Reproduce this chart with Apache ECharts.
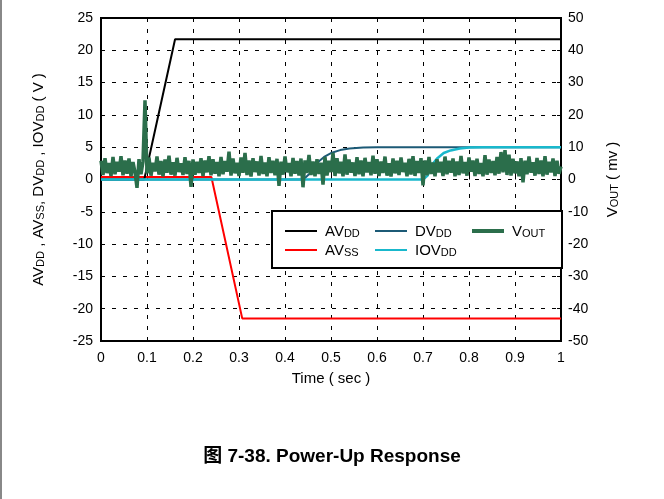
<!DOCTYPE html>
<html>
<head>
<meta charset="utf-8">
<script src="https://cdn.jsdelivr.net/npm/echarts@6/dist/echarts.min.js"></script>
<style>html,body{margin:0;padding:0;background:#fff;}#c{width:664px;height:499px;}</style>
</head>
<body>
<div id="c"></div>
<script>
// ---- data ----
var xTicks = [0, 0.1, 0.2, 0.3, 0.4, 0.5, 0.6, 0.7, 0.8, 0.9, 1];
var avdd = [[0, 0], [0.094, 0], [0.161, 21.7], [1, 21.7]];
var avss = [[0, 0.4], [0.24, 0.4], [0.307, -21.5], [1, -21.5]];
var dvdd = [[0, 0], [0.44, 0], [0.455, 1.0], [0.47, 2.6], [0.485, 3.5], [0.5, 4.1], [0.52, 4.55], [0.54, 4.8], [0.57, 4.95], [0.6, 5.0], [1, 5.0]];
var iovdd = [[0, 0], [0.70, 0], [0.71, 0.6], [0.72, 2.3], [0.73, 3.2], [0.745, 4.1], [0.76, 4.5], [0.78, 4.8], [0.8, 4.95], [0.83, 5.0], [1, 5.0]];
// VOUT in mV, evenly spaced over 0..1 s
var vout = [
 5.8, 1.4, 6.6, 2.0, 5.1, 1.1, 7.0, 1.6, 5.5, 2.4,
 7.2, 1.3, 5.9, 1.8, 6.5, 1.0, 5.4, 2.2, -2.6, 6.3,
 1.6, 5.6, 24.5, 1.9, 6.8, 1.2, 5.2, 2.5, 7.1, 1.5,
 5.7, 1.0, 6.2, 2.1, 7.4, 1.5, 5.3, 1.2, 6.7, 2.3,
 5.0, 1.4, 6.9, 1.7, 5.8, -2.3, 6.2, 1.5, 5.5, 2.0,
 6.6, 1.1, 5.9, 2.2, 7.2, 1.3, 6.3, 1.8, 5.4, 1.0,
 7.0, 1.6, 5.7, 2.4, 8.6, 1.2, 6.5, 1.9, 5.2, 1.1,
 6.8, 2.1, 8.2, 1.4, 5.9, 0.9, 6.6, 2.3, 5.6, 1.2,
 7.3, 1.7, 5.3, 1.0, 6.9, 2.0, 5.8, 1.3, 6.4, -2.0,
 5.5, 1.5, 7.1, 2.2, 5.1, 1.0, 6.7, 1.8, 5.7, 1.2,
 6.5, -2.4, 5.9, 2.0, 7.6, 1.4, 5.6, 1.0, 6.3, 1.7,
 5.2, -1.6, 7.0, 1.2, 5.8, 2.3, 8.2, 1.1, 6.6, 1.9,
 5.5, 1.0, 7.8, 1.5, 6.2, 2.1, 5.3, 1.1, 6.9, 1.6,
 5.9, 1.0, 6.7, 2.2, 5.4, 1.3, 7.4, 1.8, 6.3, 1.1,
 5.6, 2.0, 7.1, 1.2, 5.0, 0.9, 6.5, 1.9, 5.8, 1.4,
 6.8, 2.3, 5.2, 1.0, 6.4, 1.5, 7.2, 1.1, 5.7, 2.0,
 6.6, -1.8, 5.9, 1.3, 7.0, 1.7, 5.3, 1.0, 6.3, 2.2,
 5.5, 1.1, 7.1, 1.6, 5.8, 2.1, 6.5, 1.0, 5.6, 1.4,
 7.3, 1.9, 5.4, 1.2, 6.8, 2.4, 5.9, 1.1, 6.4, 1.7,
 5.1, 1.0, 7.5, 1.5, 6.2, 2.0, 5.7, 1.3, 7.0, 1.8,
 8.5, 2.2, 9.1, 1.4, 7.7, 1.2, 6.4, 1.9, 5.6, 1.0,
 6.6, -0.9, 5.8, 1.6, 7.1, 2.1, 5.3, 1.2, 6.7, 1.7,
 5.9, 1.0, 7.2, 1.5, 5.5, 2.2, 6.5, 1.1, 5.8, 1.8, 4.0
];
var leftTicks = [-25, -20, -15, -10, -5, 0, 5, 10, 15, 20, 25];
var rightTicks = [-50, -40, -30, -20, -10, 0, 10, 20, 30, 40, 50];

var voutData = vout.map(function (v, i) { return [i / (vout.length - 1), v]; });

var FONT = '"Liberation Sans", Arial, sans-serif';
var rich = {
  n: { fontSize: 15, fontFamily: FONT, color: '#000', verticalAlign: 'bottom', lineHeight: 16 },
  s: { fontSize: 11, fontFamily: FONT, color: '#000', verticalAlign: 'bottom', lineHeight: 16, padding: [4, 0, 0, 0] }
};
var names = {
  'AVDD': '{n|AV}{s|DD}',
  'AVSS': '{n|AV}{s|SS}',
  'DVDD': '{n|DV}{s|DD}',
  'IOVDD': '{n|IOV}{s|DD}',
  'VOUT': '{n|V}{s|OUT}'
};
function legendFmt(name) { return names[name]; }
function mkLegend(data, left, h) {
  return {
    data: data, orient: 'vertical', left: left, top: 219, itemWidth: 32, itemHeight: h, itemGap: 4,
    icon: 'rect', formatter: legendFmt, selectedMode: false, z: 10,
    textStyle: { fontFamily: FONT, fontSize: 15, color: '#000', padding: [0, 0, 0, 3], rich: rich }
  };
}

var chart = echarts.init(document.getElementById('c'), null, { renderer: 'canvas' });
var dash = { color: '#000', width: 1, type: [4, 7] };
chart.setOption({
  animation: false,
  backgroundColor: '#fff',
  title: {
    text: '图 7-38. Power-Up Response', left: 'center', top: 442,
    textStyle: { fontSize: 19, fontWeight: 'bold', color: '#000', fontFamily: '"Liberation Sans", "Noto Sans CJK SC", sans-serif' }
  },
  grid: { left: 101, right: 103, top: 18, bottom: 158, show: true, borderColor: '#000', borderWidth: 2, backgroundColor: 'transparent' },
  legend: [mkLegend(['AVDD', 'AVSS'], 280, 2), mkLegend(['DVDD', 'IOVDD'], 370, 2), mkLegend(['VOUT'], 467, 4)],
  xAxis: {
    type: 'value', min: 0, max: 1, interval: 0.1,
    name: 'Time ( sec )', nameLocation: 'middle', nameGap: 30,
    nameTextStyle: { fontFamily: FONT, fontSize: 15, color: '#000' },
    axisLine: { show: false },
    axisTick: { show: true, inside: true, length: 4, lineStyle: { color: '#000' } },
    axisLabel: { fontFamily: FONT, fontSize: 14, color: '#000', margin: 10, formatter: function (v) { return String(+v.toFixed(1)); } },
    splitLine: { show: true, lineStyle: dash }
  },
  yAxis: [{
    type: 'value', min: -25, max: 25, interval: 5, position: 'left',
    name: '{n|AV}{s|DD}{n| , AV}{s|SS}{n|, DV}{s|DD}{n| , IOV}{s|DD}{n| ( V )}',
    nameLocation: 'middle', nameGap: 55, nameRotate: 90,
    nameTextStyle: { fontFamily: FONT, fontSize: 15, color: '#000', rich: rich },
    axisLine: { show: false },
    axisTick: { show: true, inside: true, length: 4, lineStyle: { color: '#000' } },
    axisLabel: { fontFamily: FONT, fontSize: 14, color: '#000', margin: 8 },
    splitLine: { show: true, lineStyle: dash }
  }, {
    type: 'value', min: -50, max: 50, interval: 10, position: 'right',
    name: '{n|V}{s|OUT}{n| ( mv )}',
    nameLocation: 'middle', nameGap: 43, nameRotate: 90,
    nameTextStyle: { fontFamily: FONT, fontSize: 15, color: '#000', rich: rich },
    axisLine: { show: false },
    axisTick: { show: true, inside: true, length: 4, lineStyle: { color: '#000' } },
    axisLabel: { fontFamily: FONT, fontSize: 14, color: '#000', margin: 7 },
    splitLine: { show: false }
  }],
  graphic: [
    { type: 'line', shape: { x1: 1, y1: 0, x2: 1, y2: 499 }, style: { stroke: '#888', lineWidth: 2 }, z: 1 },
    { type: 'rect', shape: { x: 272, y: 211, width: 290, height: 57 }, style: { fill: '#fff', stroke: '#000', lineWidth: 2 }, z: 5 }
  ],
  series: [
    { name: 'AVSS', type: 'line', data: avss, symbol: 'none', z: 2, lineStyle: { color: '#ff0000', width: 2 }, itemStyle: { color: '#ff0000' } },
    { name: 'AVDD', type: 'line', data: avdd, symbol: 'none', z: 2, lineStyle: { color: '#000', width: 2 }, itemStyle: { color: '#000' } },
    { name: 'DVDD', type: 'line', data: dvdd, symbol: 'none', z: 2, lineStyle: { color: '#1c5a76', width: 2 }, itemStyle: { color: '#1c5a76' } },
    { name: 'IOVDD', type: 'line', data: iovdd, symbol: 'none', z: 2, lineStyle: { color: '#19b8cc', width: 2.5 }, itemStyle: { color: '#19b8cc' } },
    { name: 'VOUT', type: 'line', yAxisIndex: 1, data: voutData, symbol: 'none', z: 2, lineStyle: { color: '#2b6e4b', width: 3.5 }, itemStyle: { color: '#2b6e4b' } }
  ]
});
</script>
</body>
</html>
